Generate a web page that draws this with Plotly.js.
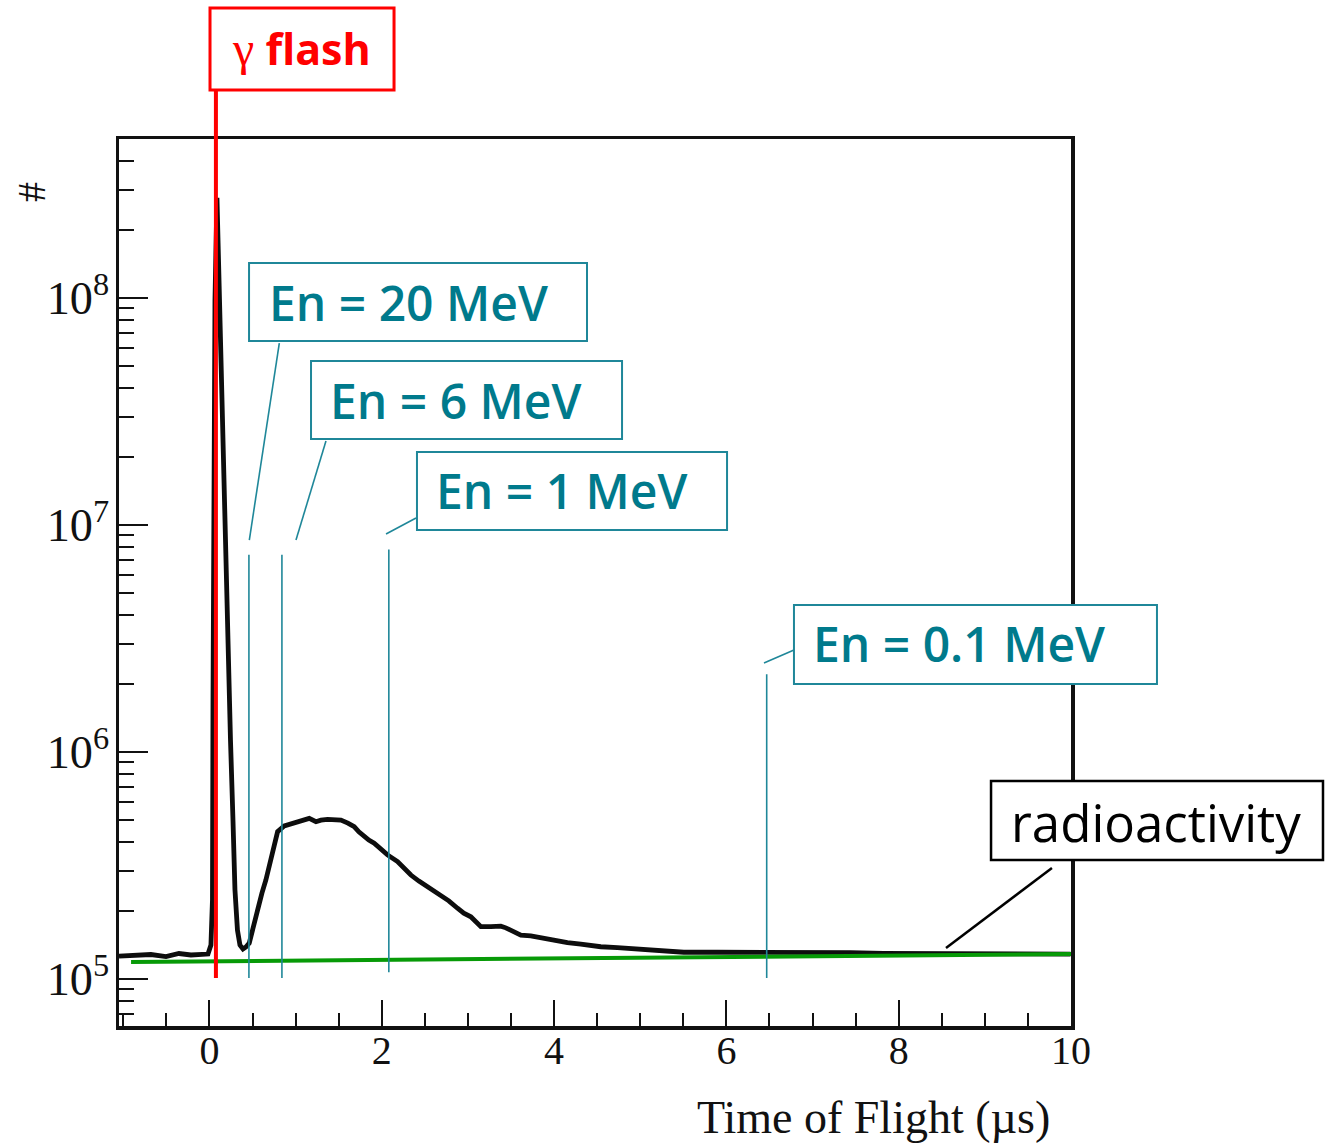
<!DOCTYPE html>
<html><head><meta charset="utf-8">
<script src="https://cdn.plot.ly/plotly-3.0.1.min.js"></script>
<style>html,body{margin:0;padding:0;background:#fff}</style>
</head><body><div id="chart" style="width:1326px;height:1145px"></div>
<script>
// ---- data (time of flight in microseconds, counts) ----
const tof = [-1.05, -0.853, -0.679, -0.505, -0.354, -0.215, -0.099, -0.017, 0.017, 0.035,
  0.041, 0.052, 0.064, 0.087, 0.104, 0.122, 0.145, 0.168, 0.191, 0.215,
  0.244, 0.273, 0.296, 0.325, 0.354, 0.389, 0.423, 0.462, 0.505, 0.559,
  0.609, 0.655, 0.696, 0.733, 0.791, 0.868, 0.945, 1.023, 1.096, 1.158,
  1.236, 1.294, 1.371, 1.444, 1.526, 1.607, 1.680, 1.734, 1.796, 1.850,
  1.912, 1.990, 2.067, 2.183, 2.256, 2.338, 2.431, 2.531, 2.604, 2.686,
  2.778, 2.879, 2.952, 3.034, 3.092, 3.150, 3.266, 3.382, 3.440, 3.521,
  3.614, 3.730, 3.846, 3.923, 4.031, 4.155, 4.310, 4.542, 4.735, 5.122,
  5.505, 5.896, 6.282, 6.665, 7.056, 7.442, 7.825, 8.216, 8.602, 8.985,
  9.376, 9.994];
const counts = [1.26e5, 1.269e5, 1.282e5, 1.256e5, 1.295e5, 1.276e5, 1.276e5, 1.288e5, 1.412e5, 2.23e5,
  1.69e6, 1.58e7, 9.8e7, 2.76e8, 1.47e8, 7.23e7, 2.90e7, 1.29e7, 5.73e6, 2.54e6,
  1.13e6, 5.01e5, 2.47e5, 1.64e5, 1.41e5, 1.355e5, 1.384e5, 1.44e5, 1.68e5, 2.01e5,
  2.39e5, 2.73e5, 3.18e5, 3.70e5, 4.46e5, 4.72e5, 4.82e5, 4.93e5, 5.01e5, 5.10e5,
  4.93e5, 5.01e5, 5.05e5, 5.05e5, 5.01e5, 4.86e5, 4.69e5, 4.45e5, 4.24e5, 4.09e5,
  3.96e5, 3.74e5, 3.52e5, 3.29e5, 3.08e5, 2.87e5, 2.70e5, 2.55e5, 2.44e5, 2.34e5,
  2.21e5, 2.05e5, 1.95e5, 1.88e5, 1.80e5, 1.70e5, 1.70e5, 1.71e5, 1.68e5, 1.63e5,
  1.56e5, 1.55e5, 1.52e5, 1.49e5, 1.46e5, 1.445e5, 1.426e5, 1.387e5, 1.374e5, 1.342e5,
  1.312e5, 1.312e5, 1.312e5, 1.319e5, 1.306e5, 1.306e5, 1.298e5, 1.298e5, 1.289e5, 1.289e5,
  1.288e5, 1.288e5];

// radioactivity background line
const bgTime = [-0.91, 10.13];
const bgCounts = [1.188e5, 1.289e5];

// gamma flash time
const flashTime = 0.075;
const flashSymbol = 'γ';
const flashWord = 'flash';

// neutron energy markers
const markerLabels = ['En = 20 MeV', 'En = 6 MeV', 'En = 1 MeV', 'En = 0.1 MeV'];
const markerTimes = [0.458, 0.841, 2.082, 6.468];
const markerTop = [7.4e6, 7.4e6, 7.8e6, 2.2e6];
const markerBottom = [1.01e5, 1.01e5, 1.07e5, 1.01e5];

const bgLabel = 'radioactivity';
const xTitle = 'Time of Flight (µs)';
const yTitle = '#';

// ---- styling / layout ----
const TEAL_LINE = '#1f8799';
const TEAL_TEXT = '#007a8c';
// box geometry in paper coords [x0, x1, y0, y1], text anchor x, text y
const markerBoxes = [
  [0.1366, 0.4916, 0.7723, 0.8602, 0.1555, 0.8162],
  [0.2017, 0.5284, 0.6618, 0.7497, 0.2195, 0.7057],
  [0.3130, 0.6387, 0.5592, 0.6471, 0.3309, 0.6032],
  [0.7090, 1.0903, 0.3856, 0.4746, 0.7269, 0.4307]
];
const markerLeaders = [
  [0.1369, 0.5479, 0.1684, 0.7700],
  [0.1859, 0.5479, 0.2174, 0.6595],
  [0.2805, 0.5547, 0.3120, 0.5727],
  [0.6775, 0.4092, 0.7090, 0.4239]
];

const traces = [
  {x: tof, y: counts, type: 'scatter', mode: 'lines',
   line: {color: '#0d0d0d', width: 4.8}, hoverinfo: 'skip', showlegend: false},
  {x: bgTime, y: bgCounts, type: 'scatter', mode: 'lines',
   line: {color: '#079a07', width: 4}, hoverinfo: 'skip', showlegend: false}
];

const shapes = [];
const annotations = [];

markerTimes.forEach((t, i) => {
  shapes.push({type: 'line', xref: 'x', yref: 'y', x0: t, x1: t,
    y0: markerBottom[i], y1: markerTop[i], layer: 'above',
    line: {color: TEAL_LINE, width: 1.6}});
  const b = markerBoxes[i];
  shapes.push({type: 'rect', xref: 'paper', yref: 'paper', x0: b[0], x1: b[1], y0: b[2], y1: b[3],
    layer: 'above', fillcolor: '#ffffff', line: {color: TEAL_LINE, width: 2}});
  const l = markerLeaders[i];
  shapes.push({type: 'line', xref: 'paper', yref: 'paper', x0: l[0], y0: l[1], x1: l[2], y1: l[3],
    layer: 'above', line: {color: TEAL_LINE, width: 1.6}});
  annotations.push({xref: 'paper', yref: 'paper', x: b[4], y: b[5], xanchor: 'left', yanchor: 'middle',
    text: markerLabels[i], showarrow: false,
    font: {family: 'Open Sans', size: 48, weight: 600, color: TEAL_TEXT}});
});

// gamma flash red line + box
shapes.push({type: 'line', xref: 'x', yref: 'paper', x0: flashTime, x1: flashTime, y0: 0.054, y1: 1.0552,
  layer: 'above', line: {color: '#ff0000', width: 4}});
shapes.push({type: 'rect', xref: 'paper', yref: 'paper', x0: 0.0956, x1: 0.2889, y0: 1.0552, y1: 1.1477,
  layer: 'above', fillcolor: '#ffffff', line: {color: '#ff0000', width: 3}});
annotations.push({xref: 'paper', yref: 'paper', x: 0.1922, y: 1.1015, xanchor: 'center', yanchor: 'middle',
  text: '<span style="font-family:\'Liberation Serif\';font-weight:normal;font-size:48px">' + flashSymbol + '</span> ' + flashWord,
  showarrow: false, font: {family: 'Open Sans', size: 43, weight: 700, color: '#ff0000'}});

// radioactivity box + leader
shapes.push({type: 'rect', xref: 'paper', yref: 'paper', x0: 0.9160, x1: 1.2647, y0: 0.1871, y1: 0.2762,
  layer: 'above', fillcolor: '#ffffff', line: {color: '#000000', width: 2.5}});
shapes.push({type: 'line', xref: 'paper', yref: 'paper', x0: 0.8687, y0: 0.0879, x1: 0.9800, y1: 0.1781,
  layer: 'above', line: {color: '#000000', width: 2.5}});
annotations.push({xref: 'paper', yref: 'paper', x: 1.0893, y: 0.2300, xanchor: 'center', yanchor: 'middle',
  text: bgLabel, showarrow: false, font: {family: 'Open Sans', size: 51, color: '#000000'}});

// axis titles
annotations.push({xref: 'paper', yref: 'paper', x: 0.980, y: -0.1037, xanchor: 'right', yanchor: 'middle',
  text: xTitle, showarrow: false, font: {family: 'Liberation Serif', size: 46, color: '#111'}});
annotations.push({xref: 'paper', yref: 'paper', x: -0.0924, y: 0.9402, xanchor: 'center', yanchor: 'middle',
  text: yTitle, textangle: -90, showarrow: false, font: {family: 'Liberation Serif', size: 40, color: '#111'}});

const layout = {
  width: 1326, height: 1145,
  margin: {l: 119, r: 255, t: 139, b: 119},
  paper_bgcolor: '#ffffff', plot_bgcolor: '#ffffff',
  showlegend: false,
  xaxis: {range: [-1.05, 10.0], tick0: 0, dtick: 2, ticks: 'inside', ticklen: 26, tickwidth: 2,
    tickcolor: '#111', showline: true, linewidth: 3.5, linecolor: '#111', mirror: true,
    showgrid: false, zeroline: false, tickfont: {family: 'Liberation Serif', size: 40, color: '#111'},
    ticklabelstandoff: -14,
    minor: {dtick: 0.5, tick0: 0, ticks: 'inside', ticklen: 13, tickwidth: 2, tickcolor: '#111', showgrid: false}},
  yaxis: {type: 'log', range: [4.793, 8.700], dtick: 1, exponentformat: 'power', ticks: 'inside', ticklen: 29,
    tickwidth: 2, tickcolor: '#111', showline: true, linewidth: 3.5, linecolor: '#111', mirror: true,
    showgrid: false, zeroline: false, tickfont: {family: 'Liberation Serif', size: 37, color: '#111'},
    ticklabelstandoff: -1,
    minor: {dtick: 'D1', ticks: 'inside', ticklen: 15, tickwidth: 2, tickcolor: '#111', showgrid: false}},
  shapes: shapes,
  annotations: annotations
};

Plotly.newPlot('chart', traces, layout, {displayModeBar: false, staticPlot: true});
</script>
</body></html>
